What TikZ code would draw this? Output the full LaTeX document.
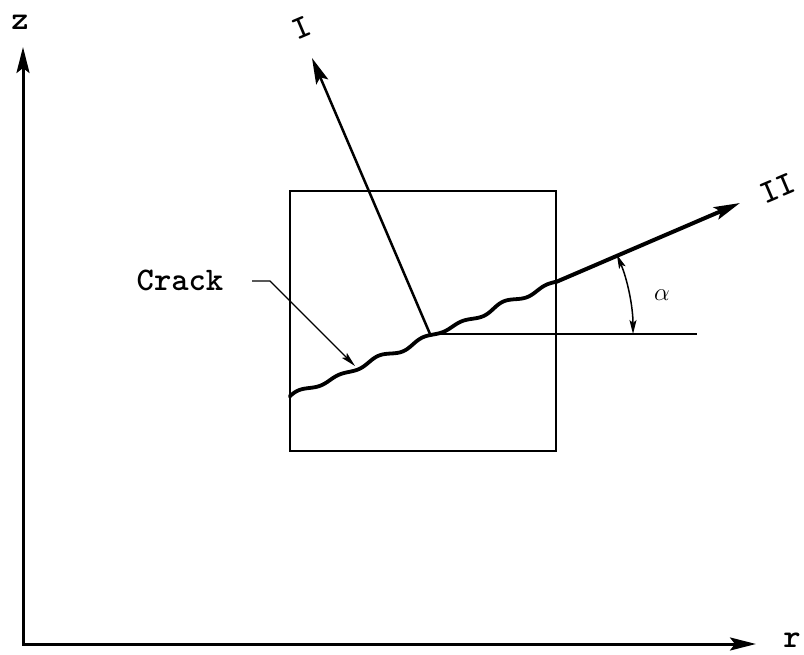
\documentclass[tikz,border=0pt]{standalone}
\usepackage{fontspec}
\usetikzlibrary{arrows.meta}
\begin{document}
\begin{tikzpicture}[x=1pt,y=1pt,
  lbl/.style={font=\ttfamily\bfseries\fontsize{33}{33}\selectfont, inner sep=0pt},
  bighead/.style={-{Stealth[length=26pt,width=13pt,inset=5pt]}},
  smallhead/.style={-{Stealth[length=15pt,width=7pt,inset=3pt]}}]
\useasboundingbox (0,0) rectangle (804,654);
% coordinates
\coordinate (O) at (23,10);
\coordinate (Ztip) at (23,607);
\coordinate (Rtip) at (756,10);
\coordinate (S) at (290,257);
\coordinate (E) at (556,372);
\coordinate (M) at (430,320);
\coordinate (H) at (697,320);
\coordinate (IItip) at (740,451);
\coordinate (Itip) at (312,596);
\coordinate (Lstart) at (252,373);
\coordinate (Lbend) at (270,373);
\coordinate (CrackPt) at (355,288);
% axes
\draw[line width=3pt, line join=miter,
  {Stealth[length=26pt,width=13pt,inset=5pt]}-{Stealth[length=26pt,width=13pt,inset=5pt]}]
  (Ztip) -- (O) -- (Rtip);
\node[lbl] (zlab) at (20,632) {z};
\node[lbl] (rlab) at (792,14) {r};
% box
\node[draw, line width=2.6pt, minimum width=266pt, minimum height=260pt, inner sep=0pt] (box) at (423,333) {};
% crack
\draw[line width=3.8pt, line cap=round, line join=round]
  plot[domain=0:289.8, samples=160, smooth]
  ({290+0.9179*\x-0.3968*(2*sin(8*\x+20)+1*sin(5*\x))},
   {257+0.3968*\x+0.9179*(2*sin(8*\x+20)+1*sin(5*\x))});
% direction II
\draw[line width=4pt, bighead] (E) -- (IItip);
\node[lbl, rotate=23] (IIlab) at (778,466) {II};
% direction I
\draw[line width=2.5pt, bighead] (M) -- (Itip);
\node[lbl, rotate=23] (Ilab) at (302,626) {I};
% horizontal reference and angle
\draw[line width=1.6pt] (M) -- (H);
\draw[line width=1.5pt, {Stealth[length=14pt,width=7pt,inset=3pt]}-{Stealth[length=14pt,width=7pt,inset=3pt]}]
  ([shift={(203,0)}]M) arc[start angle=0, end angle=23, radius=203];
\node[inner sep=0pt, font=\fontsize{32}{32}\selectfont] (alab) at (662,359) {$\alpha$};
% crack label
\node[lbl] (cracklab) at (180,374) {Crack};
\draw[line width=1.3pt, smallhead] (Lstart) -- (Lbend) -- (CrackPt);
\end{tikzpicture}
\end{document}
